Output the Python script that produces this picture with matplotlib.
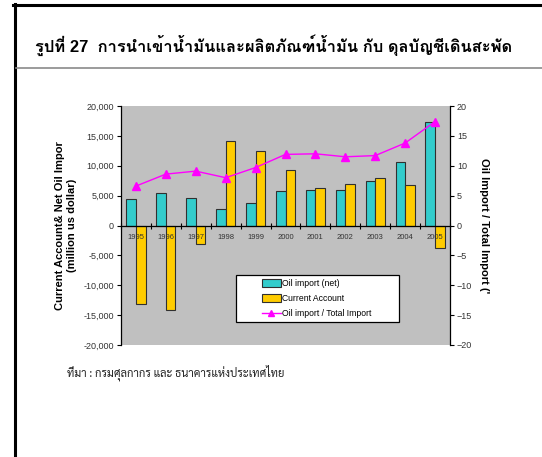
import matplotlib
matplotlib.use("Agg")
import matplotlib.pyplot as plt
from matplotlib.lines import Line2D
from matplotlib.patches import Rectangle, Patch
from matplotlib.ticker import FuncFormatter, MultipleLocator, FixedLocator
import numpy as np

plt.rcParams['font.family'] = ['Liberation Sans', 'Loma', 'DejaVu Sans']

years = ['1995', '1996', '1997', '1998', '1999', '2000', '2001', '2002', '2003', '2004', '2005']
oil_import_net = [4500, 5500, 4600, 2800, 3700, 5800, 5900, 6000, 7400, 10600, 17400]
current_account = [-13100, -14200, -3100, 14200, 12400, 9300, 6200, 7000, 7900, 6800, -3700]
oil_share = [6.6, 8.6, 9.1, 8.0, 9.7, 11.9, 12.0, 11.5, 11.7, 13.8, 17.4]

title_text = 'รูปที่ 27  การนำเข้าน้ำมันและผลิตภัณฑ์น้ำมัน กับ ดุลบัญชีเดินสะพัด'
source_text = 'ที่มา : กรมศุลกากร และ ธนาคารแห่งประเทศไทย'
left_label = 'Current Account& Net Oil Impor\n(million us dollar)'
right_label = 'Oil Import / Total Import (\''

W, H = 542, 457
fig = plt.figure(figsize=(W / 100, H / 100), dpi=100)

def fx(px):
    return px / W

def fy(py):
    return 1 - py / H

# page frame: heavy top and left rules, grey rule under the heading
fig.add_artist(Line2D([fx(13), 1], [fy(4.5), fy(4.5)], color='black', lw=2.2))
fig.add_artist(Line2D([fx(14.5), fx(14.5)], [fy(3.5), 0], color='black', lw=2.2))
fig.add_artist(Line2D([fx(16), 1], [fy(68), fy(68)], color='#8a8a8a', lw=1.2))

fig.text(fx(35), fy(45), title_text, fontsize=11.9, fontweight='bold',
         ha='left', va='center', family=['Liberation Sans', 'Loma'])
fig.text(fx(67), fy(373), source_text, fontsize=8, ha='left', va='center',
         family=['Sarabun', 'Liberation Sans'], color='#222222')

ax = fig.add_axes([fx(121), fy(345), fx(450) - fx(121), fy(106) - fy(345)])
ax.set_facecolor('#c0c0c0')

x = np.arange(len(years))
bw = 0.32
ax.bar(x - bw / 2, oil_import_net, width=bw, color='#33cccc', edgecolor='#303030',
       linewidth=0.8, zorder=2, label='Oil import (net)')
ax.bar(x + bw / 2, current_account, width=bw, color='#ffcc00', edgecolor='#303030',
       linewidth=0.8, zorder=2, label='Current Account')

ax.set_xlim(-0.5, len(years) - 0.5)
ax.set_ylim(-20000, 20000)
ax.yaxis.set_major_locator(MultipleLocator(5000))
ax.yaxis.set_major_formatter(FuncFormatter(lambda v, p: f'{int(v):,}'))
ax.tick_params(axis='y', direction='out', length=3, width=0.8, labelsize=6.5,
               pad=2, colors='black', labelcolor='#333333')

ax.spines['top'].set_visible(False)
ax.spines['right'].set_visible(False)
ax.spines['left'].set_linewidth(0.9)
ax.spines['bottom'].set_position(('data', 0))
ax.spines['bottom'].set_linewidth(0.9)
ax.spines['bottom'].set_zorder(4)
ax.xaxis.set_zorder(3)

# category boundaries carry the tick marks, category centres carry the labels
ax.xaxis.set_major_locator(FixedLocator(np.arange(-0.5, len(years), 1.0)))
ax.xaxis.set_minor_locator(FixedLocator(x))
ax.set_xticklabels([])
ax.set_xticklabels(years, minor=True)
ax.tick_params(axis='x', which='major', direction='inout', length=4, width=0.8)
ax.tick_params(axis='x', which='minor', length=0, labelsize=5.5, pad=6,
               labelcolor='#333333')

ax.set_ylabel(left_label, fontsize=8, fontweight='bold', labelpad=5,
              linespacing=1.25)

ax2 = ax.twinx()
ax2.plot(x, oil_share, color='#ff00ff', lw=1.0, marker='^', markersize=5.5,
         markeredgecolor='#ff00ff', zorder=5, label='Oil import / Total Import')
ax2.set_ylim(-20, 20)
ax2.yaxis.set_major_locator(MultipleLocator(5))
ax2.tick_params(axis='y', direction='out', length=3, width=0.8, labelsize=6.5,
                pad=2, labelcolor='#333333')
for s in ['top', 'left', 'bottom']:
    ax2.spines[s].set_visible(False)
ax2.spines['right'].set_linewidth(0.9)
ax2.set_ylabel(right_label, fontsize=8, fontweight='bold', rotation=-90,
               labelpad=12)

# legend box
lx0, lx1, ly0, ly1 = 236, 399, 275, 322
ax2.add_artist(Rectangle((fx(lx0), fy(ly1)), fx(lx1) - fx(lx0), fy(ly0) - fy(ly1),
                         transform=fig.transFigure, facecolor='white',
                         edgecolor='black', lw=0.9, zorder=6))
handles = [Patch(facecolor='#33cccc', edgecolor='#303030', lw=0.8),
           Patch(facecolor='#ffcc00', edgecolor='#303030', lw=0.8),
           Line2D([], [], color='#ff00ff', lw=1.0, marker='^', markersize=5)]
labels = ['Oil import (net)', 'Current Account', 'Oil import / Total Import']
leg = fig.legend(handles, labels, loc='center left',
                 bbox_to_anchor=(fx(262), fy(298.5)), frameon=False,
                 fontsize=6.2, handlelength=2.2, handleheight=0.9,
                 handletextpad=0.15, labelspacing=0.7, borderpad=0,
                 borderaxespad=0)
leg.set_zorder(7)

fig.savefig('out.png', dpi=100)
